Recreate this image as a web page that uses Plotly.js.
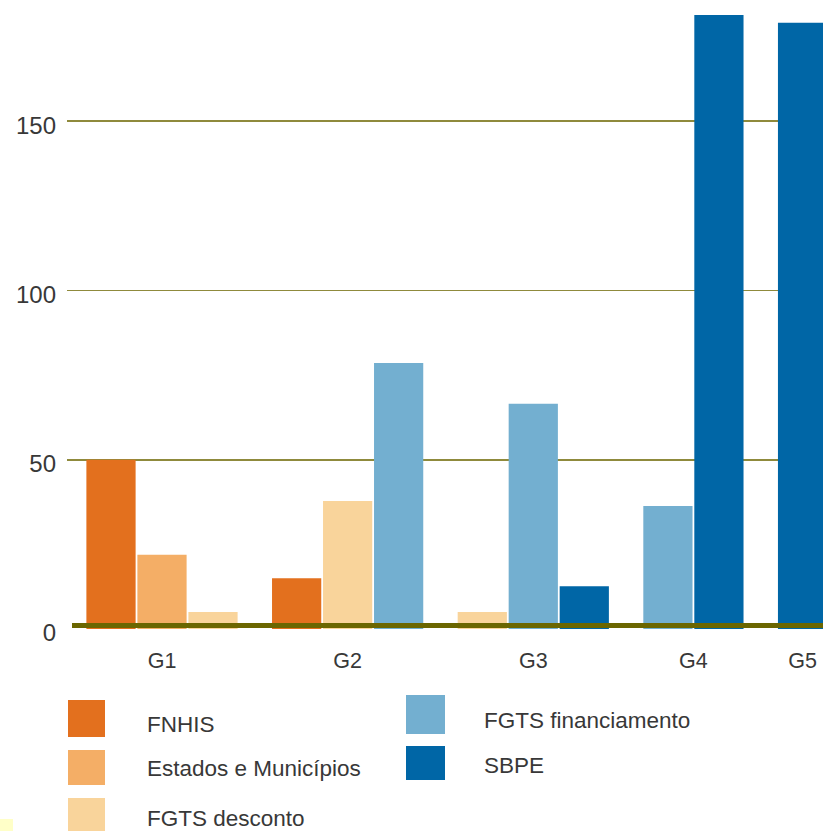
<!DOCTYPE html>
<html>
<head>
<meta charset="utf-8">
<script src="https://cdn.plot.ly/plotly-3.0.1.min.js"></script>
<style>
  html, body { margin: 0; padding: 0; background: #ffffff; }
  #chart { width: 823px; height: 831px; }
</style>
</head>
<body>
<div id="chart"></div>
<script>
// Groups and series (values per group; 0 = no bar in that group)
const groups = ['G1', 'G2', 'G3', 'G4', 'G5'];
const seriesNames = ['FNHIS', 'Estados e Municípios', 'FGTS desconto', 'FGTS financiamento', 'SBPE'];
const fnhis = [50, 15.0, 0, 0, 0];
const estadosMunicipios = [21.9, 0, 0, 0, 0];
const fgtsDesconto = [5.0, 37.8, 5.0, 0, 0];
const fgtsFinanciamento = [0, 78.6, 66.5, 36.3, 0];
const sbpe = [0, 0, 12.6, 181.4, 179.1];
const yTickValues = [0, 50, 100, 150];

const seriesValues = [fnhis, estadosMunicipios, fgtsDesconto, fgtsFinanciamento, sbpe];
const seriesColors = ['#e3701e', '#f4ae66', '#f9d49b', '#73afd0', '#0066a6'];

const W = 823, H = 831;
const PLOT_L = 67, PLOT_R = 823, PLOT_T = 0, PLOT_B = 629;
const FONT = '"Liberation Sans", Arial, sans-serif';
const TEXT = '#383838';

// Bars are packed inside each group: only series with a value take a slot,
// and groups are separated by a fixed extra gap.
const GROUP_GAP = 0.64;
const xPos = seriesValues.map(() => groups.map(() => null));
const groupCenters = [];
let slot = 0;
groups.forEach((g, gi) => {
  const first = slot + gi * GROUP_GAP;
  let n = 0;
  seriesValues.forEach((vals, si) => {
    if (vals[gi] > 0) {
      xPos[si][gi] = slot + gi * GROUP_GAP;
      slot++;
      n++;
    }
  });
  groupCenters.push(first + (n - 1) / 2);
});

const traces = seriesValues.map((vals, si) => {
  const xs = [], ys = [];
  vals.forEach((v, gi) => {
    if (v > 0) { xs.push(xPos[si][gi]); ys.push(v); }
  });
  return {
    type: 'bar',
    name: seriesNames[si],
    x: xs,
    y: ys,
    width: 0.965,
    marker: { color: seriesColors[si], line: { width: 0 } },
    showlegend: false,
    hoverinfo: 'skip'
  };
});

// pixel -> paper helpers for the hand-laid legend
const px = x => (x - PLOT_L) / (PLOT_R - PLOT_L);
const py = y => (PLOT_B - y) / (PLOT_B - PLOT_T);

const legendItems = [
  { box: [68, 105, 700, 737], textX: 145, textY: 724 },
  { box: [68, 105, 750, 785], textX: 145, textY: 768 },
  { box: [68, 105, 798, 837], textX: 145, textY: 818 },
  { box: [406, 445, 695, 734], textX: 482, textY: 720 },
  { box: [406, 445, 746, 780], textX: 482, textY: 766 }
];

const shapes = [];
const annotations = [];
legendItems.forEach((it, i) => {
  shapes.push({
    type: 'rect', xref: 'paper', yref: 'paper',
    x0: px(it.box[0]), x1: px(it.box[1]), y0: py(it.box[2]), y1: py(it.box[3]),
    fillcolor: seriesColors[i], line: { width: 0 }
  });
  annotations.push({
    xref: 'paper', yref: 'paper', x: px(it.textX), y: py(it.textY),
    xanchor: 'left', yanchor: 'middle', showarrow: false,
    text: seriesNames[i], font: { family: FONT, size: 22.5, color: TEXT }
  });
});

// thick olive base line, sitting just on top of the bars' foot
shapes.push({
  type: 'line', xref: 'paper', x0: px(72), x1: 1,
  yref: 'y', ysizemode: 'pixel', yanchor: 0, y0: 3.5, y1: 3.5,
  line: { color: '#6b6600', width: 5 }, layer: 'above'
});

// small pale mark in the lower-left corner
shapes.push({
  type: 'rect', xref: 'paper', yref: 'paper',
  x0: px(0), x1: px(13), y0: py(819), y1: py(831),
  fillcolor: '#ffffc8', line: { width: 0 }
});

const pxPerUnit = 51;
const firstBarPx = 111;

const layout = {
  width: W, height: H,
  margin: { l: PLOT_L, r: W - PLOT_R, t: PLOT_T, b: H - PLOT_B, pad: 0 },
  paper_bgcolor: '#ffffff', plot_bgcolor: 'rgba(0,0,0,0)',
  barmode: 'overlay',
  showlegend: false,
  font: { family: FONT, color: TEXT },
  xaxis: {
    range: [-(firstBarPx - PLOT_L) / pxPerUnit, (PLOT_R - firstBarPx) / pxPerUnit],
    tickmode: 'array', tickvals: groupCenters, ticktext: groups,
    tickfont: { family: FONT, size: 21.5, color: TEXT },
    showgrid: false, zeroline: false, showline: false, ticks: '',
    ticklabelstandoff: 16, fixedrange: true
  },
  yaxis: {
    range: [0, 185.8],
    tickmode: 'array', tickvals: yTickValues, ticktext: yTickValues.map(String),
    tickfont: { family: FONT, size: 24, color: TEXT },
    showgrid: true, gridcolor: '#8f8a3c', gridwidth: 1.6,
    zeroline: true, zerolinecolor: '#ffffff', zerolinewidth: 1,
    showline: false, ticks: '', ticklabelstandoff: 10, ticklabelshift: 4,
    fixedrange: true
  },
  shapes: shapes,
  annotations: annotations
};

Plotly.newPlot('chart', traces, layout, { staticPlot: true, displayModeBar: false });
</script>
</body>
</html>
